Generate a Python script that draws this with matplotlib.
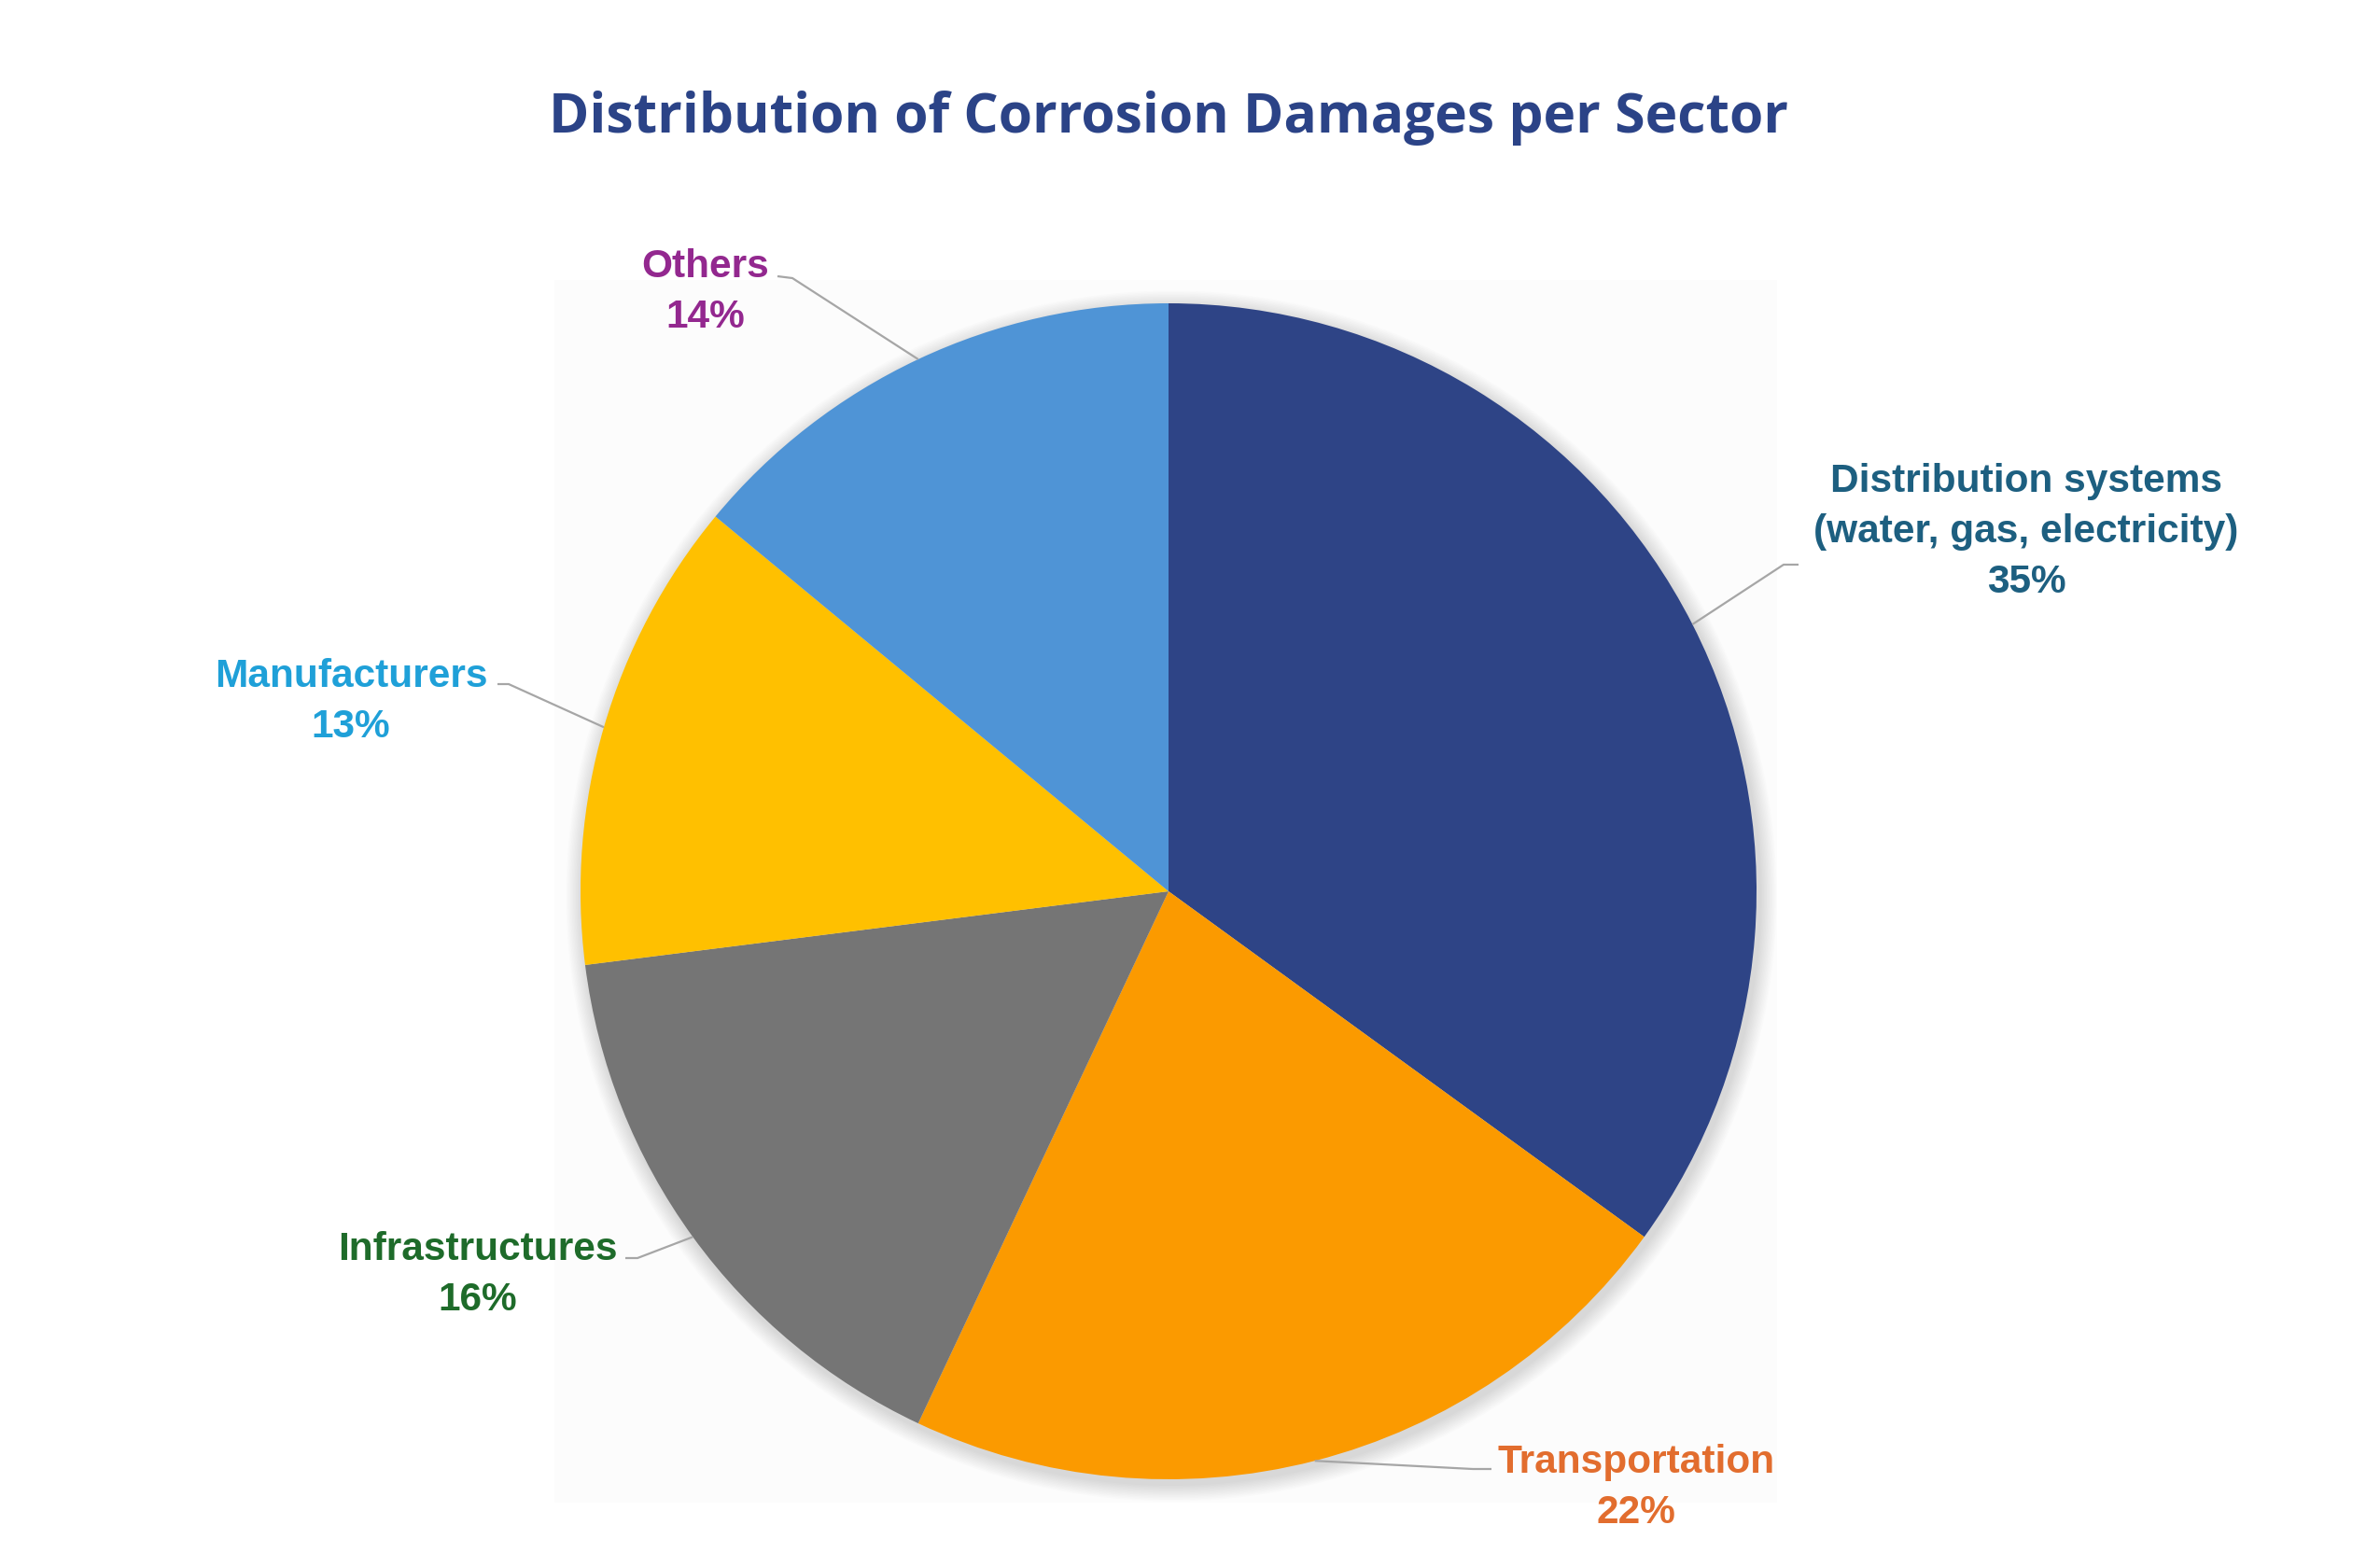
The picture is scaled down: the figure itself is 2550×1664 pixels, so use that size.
import matplotlib
matplotlib.use('Agg')
import matplotlib.pyplot as plt
import numpy as np
from matplotlib.patches import Circle, Rectangle

# data
sectors = ['Distribution systems\n(water, gas, electricity)', 'Transportation',
           'Infrastructures', 'Manufacturers', 'Others']
shares = [35, 22, 16, 13, 14]
slice_colors = ['#2E4486', '#FB9A00', '#757575', '#FFC000', '#4F94D6']
label_colors = ['#1D5F80', '#E26D2E', '#1E6B2A', '#1FA0D8', '#93288F']

W, H = 2550, 1664
fig = plt.figure(figsize=(W / 100, H / 100), dpi=100)
ax = fig.add_axes([0, 0, 1, 1])


def fy(y):
    # image y (top origin) -> axes y
    return H - y


cx, cy, r = 1252, 955, 630

# faint plot area background
ax.add_patch(Rectangle((594, fy(1610)), 1310, 1310, facecolor='#FCFCFC',
                       edgecolor='none', zorder=0))
# soft shadow around the pie
for i in range(12):
    ax.add_patch(Circle((cx + 3, fy(cy) - 5), r + 2 + i * 1.5, facecolor='#000000',
                        edgecolor='none', alpha=0.012, zorder=1))

wedges, _ = ax.pie(shares, colors=slice_colors, startangle=90, counterclock=False,
                   radius=r, center=(cx, fy(cy)), frame=True,
                   wedgeprops=dict(linewidth=0, zorder=2))
ax.set_xlim(0, W)
ax.set_ylim(0, H)
ax.axis('off')

# label text positions and leader elbows (image pixel coords)
text_pos = [(2171, 570), (1753, 1594), (512, 1366), (376, 752), (756, 313)]
elbows = [[(1927, 605), (1911, 605)],
          [(1598, 1574), (1578, 1574)],
          [(670, 1348), (683, 1348)],
          [(533, 733), (545, 733)],
          [(833, 296), (849, 298)]]

cum = np.cumsum([0] + shares[:-1])
for k in range(len(shares)):
    mid = 90 - (cum[k] + shares[k] / 2) * 3.6
    ex = cx + r * np.cos(np.radians(mid))
    ey = cy - r * np.sin(np.radians(mid))
    pts = elbows[k] + [(ex, ey)]
    ax.plot([p[0] for p in pts], [fy(p[1]) for p in pts], color='#A6A6A6',
            lw=1.6, zorder=3, solid_capstyle='butt')
    tx, ty = text_pos[k]
    ax.text(tx, fy(ty), sectors[k] + '\n' + f'{shares[k]}%', ha='center', va='center',
            fontsize=30.5, fontweight='bold', family='Liberation Sans',
            color=label_colors[k], linespacing=1.45, zorder=4)

ax.text(1252, fy(127), 'Distribution of Corrosion Damages per Sector', ha='center',
        va='center', fontsize=42.3, fontweight='bold', family='Open Sans', color='#2B4387')

fig.savefig('out.png', dpi=100, facecolor='white')
